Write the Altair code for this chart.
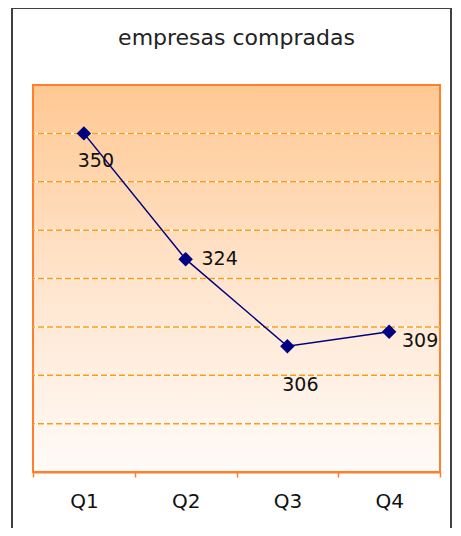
import altair as alt
import pandas as pd

title_text = "empresas compradas"
quarters = ["Q1", "Q2", "Q3", "Q4"]
values = [350, 324, 306, 309]
grid_values = [290, 300, 310, 320, 330, 340, 350]

# label offsets (style only)
label_dx = [12, 34, 13, 31]
label_dy = [28, 0, 39, 9]

W, H = 407, 387

df = pd.DataFrame({"q": quarters, "v": values})
gdf = pd.DataFrame({"g": grid_values})

xs = alt.Scale(domain=quarters, paddingInner=0, paddingOuter=0)
ys = alt.Scale(domain=[280, 360], nice=False, zero=False)

x_enc = alt.X("q:N", scale=xs, sort=quarters, title=None,
              axis=alt.Axis(labelAngle=0, tickBand="extent", domainColor="#FF7F2A",
                            domainWidth=2, tickColor="#FF7F2A", tickWidth=1.5, tickSize=5,
                            labelFont="DejaVu Sans", labelFontSize=20, labelColor="#111111",
                            labelPadding=14, grid=False))
y_enc = alt.Y("v:Q", scale=ys, axis=None)

outer = alt.Chart(df).mark_rect(fill=None, stroke="#404040", strokeWidth=2).encode(
    x=alt.value(-21), x2=alt.value(418), y=alt.value(-77), y2=alt.value(470))

bg = alt.Chart(df).mark_rect(
    fill=alt.Gradient(gradient="linear", x1=0, y1=0, x2=0, y2=1,
                      stops=[alt.GradientStop(color="#FFC892", offset=0),
                             alt.GradientStop(color="#FFE4CC", offset=0.5),
                             alt.GradientStop(color="#FFFBF8", offset=1)]),
    stroke="#FF7F2A", strokeWidth=2).encode(
    x=alt.value(0), x2=alt.value(W), y=alt.value(0), y2=alt.value(H))

grid_white = alt.Chart(gdf).mark_rule(color="#FFFFFF", strokeWidth=1.5).encode(
    y=alt.Y("g:Q", scale=ys, axis=None))
grid_orange = alt.Chart(gdf).mark_rule(color="#FF9A10", strokeWidth=1.5, strokeDash=[6, 3]).encode(
    y=alt.Y("g:Q", scale=ys, axis=None))

line = alt.Chart(df).mark_line(color="#000080", strokeWidth=1.5).encode(x=x_enc, y=y_enc)
pts = alt.Chart(df).mark_point(shape="diamond", filled=True, size=210, color="#000080", opacity=1).encode(
    x=x_enc, y=y_enc)

labels = []
for q, dx, dy in zip(quarters, label_dx, label_dy):
    labels.append(
        alt.Chart(df).transform_filter(alt.datum.q == q).mark_text(
            font="DejaVu Sans", fontSize=19, color="#111111", dx=dx, dy=dy,
            align="center", baseline="middle").encode(x=x_enc, y=y_enc, text="v:Q"))

title = alt.Chart(pd.DataFrame({"t": [title_text]})).mark_text(
    font="DejaVu Sans", fontSize=22, color="#222222", align="center", baseline="alphabetic").encode(
    x=alt.value(W / 2), y=alt.value(-40), text="t:N")

chart = alt.layer(outer, bg, grid_white, grid_orange, line, pts, *labels, title).properties(
    width=W, height=H,
    autosize=alt.AutoSizeParams(type="none"),
    padding={"left": 25, "top": 77, "right": 13, "bottom": 56},
).configure_view(stroke=None)

chart.save("out.html", embed_options={"renderer": "svg", "actions": False})
